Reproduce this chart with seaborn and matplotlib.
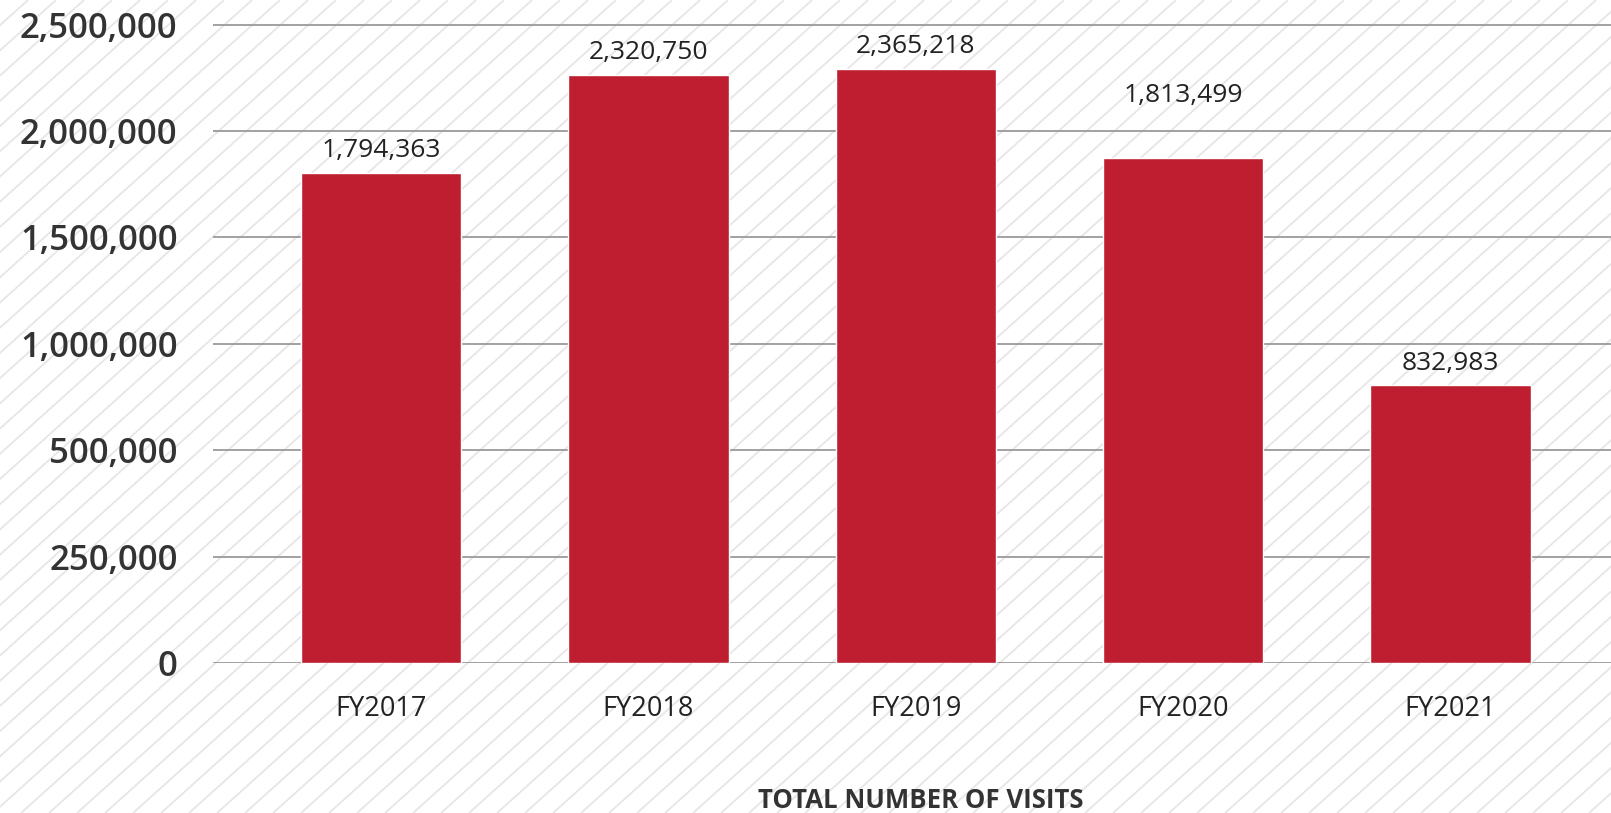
import numpy as np
import pandas as pd
import matplotlib
matplotlib.use("Agg")
import matplotlib.pyplot as plt
import seaborn as sns
from matplotlib.collections import LineCollection

# ---- data ----
years = ["FY2017", "FY2018", "FY2019", "FY2020", "FY2021"]
visits_labels = ["1,794,363", "2,320,750", "2,365,218", "1,813,499", "832,983"]
# bar heights as drawn in the picture
bar_heights = [1803000, 2264000, 2292000, 1873000, 804000]
tick_values = [0, 250000, 500000, 1000000, 1500000, 2000000, 2500000]
tick_labels = ["0", "250,000", "500,000", "1,000,000", "1,500,000", "2,000,000", "2,500,000"]
x_title = "TOTAL NUMBER OF VISITS"

df = pd.DataFrame({"year": years, "visits": bar_heights})

sns.set_theme(style="white")
plt.rcParams["font.family"] = ["Open Sans", "DejaVu Sans"]

W, H, DPI = 1611, 813, 100
fig = plt.figure(figsize=(W / DPI, H / DPI), dpi=DPI, facecolor="white")

# background diagonal hatch lines (figure decoration)
ang = np.deg2rad(42)
step = 28.0
segs = []
c = -H / np.tan(ang) - step
while c < W + step:
    x0, y0 = c, 0.0
    x1, y1 = c + H / np.tan(ang), float(H)
    segs.append([(x0 / W, y0 / H), (x1 / W, y1 / H)])
    c += step
lc = LineCollection(segs, colors="#e6e6e6", linewidths=1.3, transform=fig.transFigure, zorder=0)
fig.add_artist(lc)

ax = fig.add_axes([213 / W, 150 / H, 1 - 213 / W, (663 - 19.2) / H])
ax.set_facecolor("none")

# piecewise scale matching the tick spacing
src = np.array([-250000, 0, 250000, 500000, 1000000, 1500000, 2000000, 2500000, 3000000, 5000000], dtype=float)
dst = np.array([-1, 0, 1, 2, 3, 4, 5, 6, 7, 11], dtype=float)

def fwd(v):
    return np.interp(np.asarray(v, dtype=float), src, dst)

def inv(v):
    return np.interp(np.asarray(v, dtype=float), dst, src)

ax.set_yscale("function", functions=(fwd, inv))

sns.barplot(data=df, x="year", y="visits", color="#BE1E2F", saturation=1, width=0.6, ax=ax, zorder=3)

ax.set_xlim(-0.628, 4.6)
ax.set_ylim(0, float(inv(6.05)))
ax.set_yticks(tick_values)
ax.set_yticklabels(tick_labels)
ax.yaxis.set_minor_locator(matplotlib.ticker.NullLocator())
ax.grid(axis="y", color="#9a9a9a", linewidth=1.3)
ax.grid(axis="x", visible=False)
ax.set_axisbelow(True)
for s in ax.spines.values():
    s.set_visible(False)
ax.tick_params(axis="y", length=0, pad=25.5, labelsize=25, labelcolor="#333333")
ax.tick_params(axis="x", length=0, pad=23, labelsize=19.5, labelcolor="#222222")
for t in ax.get_yticklabels():
    t.set_fontweight(600)
ax.set_xlabel("")
ax.set_ylabel("")

label_pads = [7, 7, 7, 36, 7]
for bar, lab, pad in zip(ax.patches, visits_labels, label_pads):
    ax.annotate(lab, (bar.get_x() + bar.get_width() / 2, bar.get_height()),
                xytext=(0, pad), textcoords="offset points", ha="center", va="bottom",
                fontsize=19, color="#222222", zorder=5)

fig.text(921 / W, 1 - 800 / H, x_title, ha="center", va="center", fontsize=18.5,
         fontweight="bold", color="#333333")

fig.savefig("out.png", dpi=DPI, facecolor="white")
